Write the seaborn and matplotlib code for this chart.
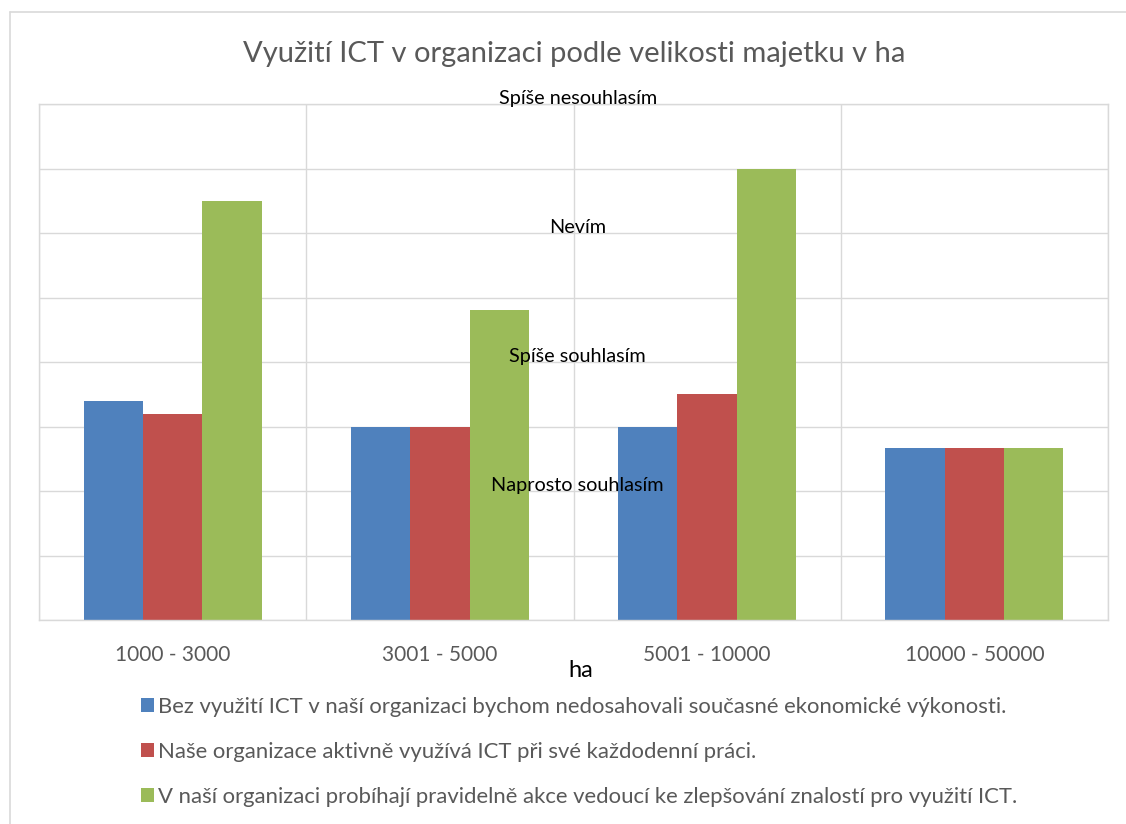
import numpy as np
import pandas as pd
import matplotlib
matplotlib.use("Agg")
import matplotlib.pyplot as plt
from matplotlib.lines import Line2D
from matplotlib.ticker import MultipleLocator, FixedLocator
import seaborn as sns

# --- data ---
categories = ["1000 - 3000", "3001 - 5000", "5001 - 10000", "10000 - 50000"]
series_names = [
    "Bez využití ICT v naší organizaci bychom nedosahovali současné ekonomické výkonosti.",
    "Naše organizace aktivně využívá ICT při své každodenní práci.",
    "V naší organizaci probíhají pravidelně akce vedoucí ke zlepšování znalostí pro využití ICT.",
]
bez_ict = [1.70, 1.50, 1.50, 1.33]
aktivne = [1.60, 1.50, 1.75, 1.33]
akce = [3.25, 2.40, 3.50, 1.33]
scale_labels = ["Naprosto souhlasím", "Spíše souhlasím", "Nevím", "Spíše nesouhlasím"]
scale_values = [1, 2, 3, 4]

colors = ["#4F81BD", "#C0504D", "#9BBB59"]
grid_color = "#D9D9D9"
text_gray = "#595959"

df = pd.DataFrame({
    "velikost": categories * 3,
    "serie": np.repeat(series_names, len(categories)),
    "hodnota": bez_ict + aktivne + akce,
})

sns.set_theme(style="white")
plt.rcParams["font.family"] = ["Lato", "DejaVu Sans"]

fig = plt.figure(figsize=(11.26, 8.24), dpi=100)
ax = fig.add_axes([39 / 1126, 1 - 620 / 824, (1108 - 39) / 1126, (620 - 104) / 824])

sns.barplot(data=df, x="velikost", y="hodnota", hue="serie", order=categories,
            hue_order=series_names, palette=colors, width=2 / 3, linewidth=0,
            saturation=1, ax=ax)
handles, labels = ax.get_legend_handles_labels()
ax.get_legend().remove()

# axes styling
ax.set_ylim(0, 4)
ax.set_xlim(-0.5, len(categories) - 0.5)
ax.yaxis.set_major_locator(MultipleLocator(0.5))
ax.set_yticklabels([])
ax.set_ylabel("")
ax.xaxis.set_minor_locator(FixedLocator(np.arange(-0.5, len(categories), 1.0)))
ax.grid(True, axis="y", which="major", color=grid_color, linewidth=1.0)
ax.grid(True, axis="x", which="minor", color=grid_color, linewidth=1.0)
ax.set_axisbelow(True)
for s in ax.spines.values():
    s.set_color(grid_color)
    s.set_linewidth(1.0)
ax.tick_params(axis="both", which="both", length=0)
ax.tick_params(axis="x", labelsize=15, labelcolor=text_gray, pad=18)

ax.set_xlabel("ha", fontsize=17, color="black", va="center")
ax.xaxis.set_label_coords(0.507, -0.098)

# scale labels drawn inside the plot
trans = ax.get_yaxis_transform()
for val, lab in zip(scale_values, scale_labels):
    ax.text(0.504, val + 0.04, lab, transform=trans, ha="center", va="center",
            fontsize=14.3, color="black")

fig.text(574 / 1126, 1 - 54 / 824, "Využití ICT v organizaci podle velikosti majetku v ha",
         ha="center", va="center", fontsize=21, color=text_gray)

fig.legend(handles, labels, loc="upper left", bbox_to_anchor=(132 / 1126, 1 - 688 / 824),
           frameon=False, fontsize=15.9, labelcolor=text_gray, handlelength=0.6,
           handleheight=0.6, handletextpad=0.2, labelspacing=1.13, borderaxespad=0)

# light chart-area border (top and left edges visible in the reference)
fig.add_artist(Line2D([10 / 1126, 1], [1 - 12 / 824, 1 - 12 / 824], color=grid_color, lw=1.2))
fig.add_artist(Line2D([10 / 1126, 10 / 1126], [0, 1 - 12 / 824], color=grid_color, lw=1.2))

fig.savefig("out.png", dpi=100)
